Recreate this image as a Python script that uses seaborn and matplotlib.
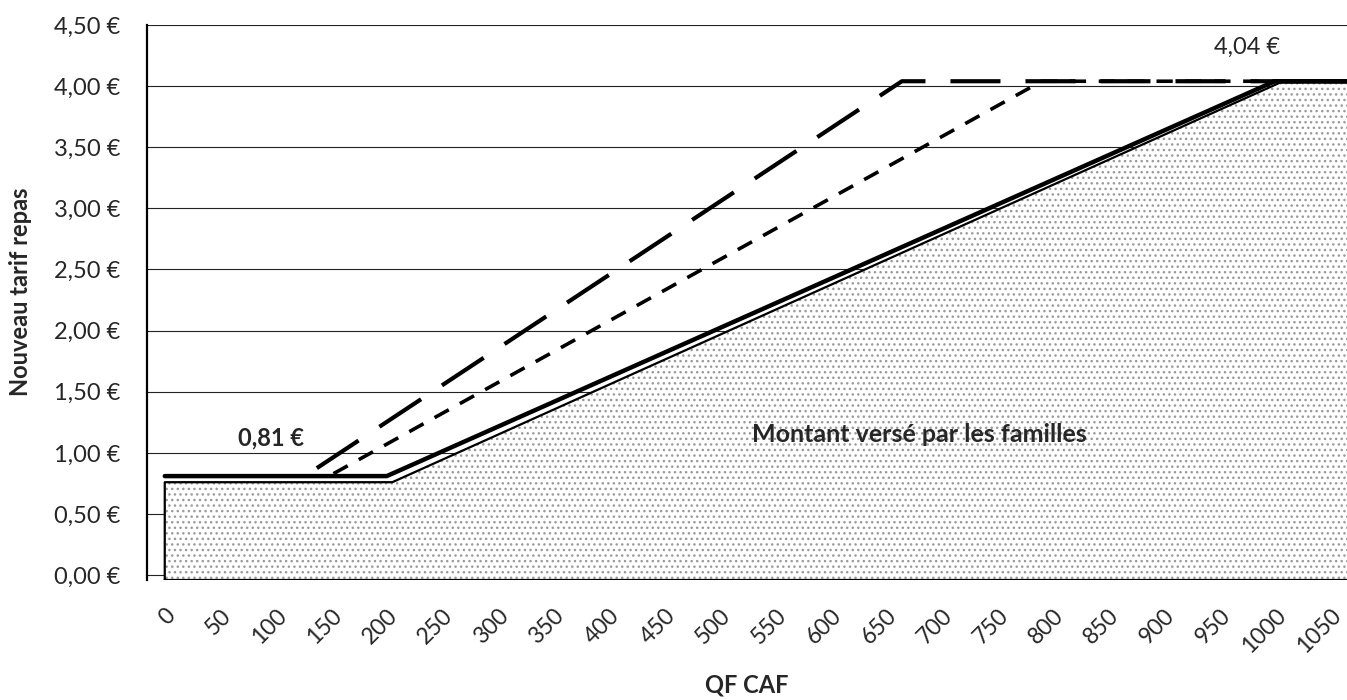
import numpy as np
import pandas as pd
import matplotlib
matplotlib.use("Agg")
import matplotlib.pyplot as plt
import seaborn as sns

# ─────────────────────────────────────────────
# Data
# ─────────────────────────────────────────────
# Solid line: current tariff (flat 0.81 € then linear up to 4.04 €)
solid_x = [0, 200, 1000, 1070]
solid_y = [0.81, 0.81, 4.04, 4.04]

# Long-dashed scenario
long_x = [137, 664, 1070]
long_y = [0.875, 4.04, 4.04]

# Short-dashed scenario
short_x = [152, 790, 1070]
short_y = [0.83, 4.04, 4.04]

# Stippled area "Montant versé par les familles"
fam_x = [0, 205, 1005, 1070]
fam_y = [0.76, 0.76, 4.03, 4.03]
FAM_BOTTOM = -0.04

x_ticks = list(range(0, 1051, 50))
y_ticks = [0, 0.5, 1.0, 1.5, 2.0, 2.5, 3.0, 3.5, 4.0, 4.5]
y_tick_labels = [f"{v:.2f} €".replace(".", ",") for v in y_ticks]

FONT = ["Lato", "DejaVu Sans"]

sns.set_theme(style="white")
plt.rcParams["font.family"] = FONT

fig = plt.figure(figsize=(13.47, 7.0), dpi=100)
ax = fig.add_axes([147 / 1347, (700 - 580) / 700, 1200 / 1347, 555 / 700])

# horizontal gridlines
for v in y_ticks:
    ax.axhline(v, color="#222222", lw=0.8, zorder=1)

# stippled family contribution area
ax.fill_between(fam_x, fam_y, FAM_BOTTOM, facecolor="white",
                edgecolor="#9a9a9a", hatch="...", lw=0, zorder=2)
outline_x = [fam_x[0]] + fam_x + [fam_x[-1], fam_x[0]]
outline_y = [FAM_BOTTOM] + fam_y + [FAM_BOTTOM, FAM_BOTTOM]
ax.plot(outline_x, outline_y, color="black", lw=1.6, zorder=3)

lines = pd.concat([
    pd.DataFrame({"qf": solid_x, "tarif": solid_y, "serie": "actuel"}),
    pd.DataFrame({"qf": long_x, "tarif": long_y, "serie": "long"}),
    pd.DataFrame({"qf": short_x, "tarif": short_y, "serie": "court"}),
])

sns.lineplot(data=lines[lines.serie == "actuel"], x="qf", y="tarif",
             color="black", lw=3.2, ax=ax, zorder=5, sort=False,
             solid_capstyle="round")
sns.lineplot(data=lines[lines.serie == "long"], x="qf", y="tarif",
             color="black", lw=3.0, ax=ax, zorder=4, sort=False,
             dashes=False, linestyle=(0, (12, 6)))
sns.lineplot(data=lines[lines.serie == "court"], x="qf", y="tarif",
             color="black", lw=2.6, ax=ax, zorder=4, sort=False,
             dashes=False, linestyle=(0, (4.5, 3.5)))

# annotations
ax.text(96, 1.12, "0,81 €", fontsize=17, fontweight="bold",
        ha="center", va="center", zorder=6)
ax.text(975, 4.32, "4,04 €", fontsize=17,
        ha="center", va="center", zorder=6)
ax.text(680, 1.15, "Montant versé par les familles", fontsize=18,
        fontweight="bold", ha="center", va="center", zorder=6)

ax.set_xlim(-16, 1065)
ax.set_ylim(FAM_BOTTOM, 4.5)
ax.set_xticks(x_ticks)
ax.set_xticklabels([str(t) for t in x_ticks], fontsize=16.5)
plt.setp(ax.get_xticklabels(), rotation=45, ha="right", rotation_mode="anchor")
ax.set_yticks(y_ticks)
ax.set_yticklabels(y_tick_labels, fontsize=17)
ax.tick_params(axis="x", length=0, pad=18)
ax.tick_params(axis="y", length=0, pad=19)

ax.set_xlabel("QF CAF", fontsize=17, fontweight="bold")
ax.xaxis.set_label_coords(0.5, -(674 - 580) / 555)
ax.set_ylabel("Nouveau tarif repas", fontsize=17, fontweight="bold")
ax.yaxis.set_label_coords(-0.096, 0.52)

if ax.get_legend() is not None:
    ax.get_legend().remove()

for side in ["top", "right"]:
    ax.spines[side].set_visible(False)
ax.spines["left"].set_color("black")
ax.spines["left"].set_linewidth(1.6)
ax.spines["bottom"].set_visible(False)

fig.savefig("out.png", dpi=100)
plt.close(fig)
